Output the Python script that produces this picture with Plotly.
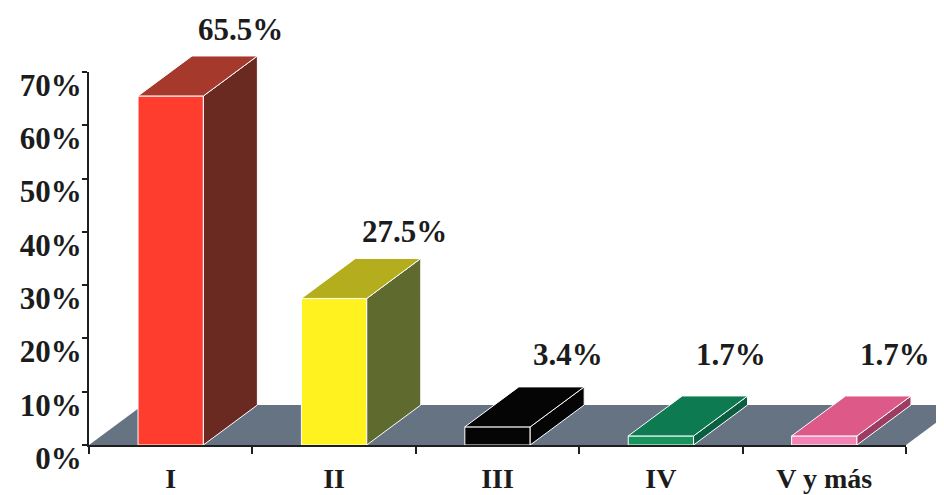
import plotly.graph_objects as go

# ---------------- data ----------------
categories = ["I", "II", "III", "IV", "V y más"]
values = [65.5, 27.5, 3.4, 1.7, 1.7]
value_labels = ["65.5%", "27.5%", "3.4%", "1.7%", "1.7%"]
y_tick_values = [0, 10, 20, 30, 40, 50, 60, 70]
y_tick_labels = ["0%", "10%", "20%", "30%", "40%", "50%", "60%", "70%"]

# ---------------- styles ----------------
front_colors = ["#ff3d2e", "#fff21e", "#050505", "#17935e", "#f283b4"]
top_colors = ["#a53a2c", "#b4ae1f", "#050505", "#0d7a52", "#dd5a88"]
side_colors = ["#6a2a22", "#5e6a2e", "#050505", "#0a5f40", "#9c3c62"]
floor_color = "#667383"
text_color = "#1c1c1c"
FONT = "Liberation Serif, Times New Roman, serif"

# ---------------- geometry (pixels) ----------------
BODY = 8                 # default page margin around the plot div
W, H = 944 - BODY, 495 - BODY
M_L, M_B = 89 - BODY, 50
AXIS_W_PX = 817          # length of the category axis
AXIS_H_PX = 373          # length of the value axis (0..70%)
X_MAX = len(categories)
Y_MAX = 70
px_x = AXIS_W_PX / X_MAX
px_y = AXIS_H_PX / Y_MAX
plot_w = W - M_L
plot_h = H - M_B

BAR_HALF = 0.2
DEPTH_X = 54 / px_x
DEPTH_Y = 40 / px_y

fig = go.Figure()

centers = [i + 0.5 for i in range(len(categories))]

# front faces (real bar trace)
fig.add_trace(go.Bar(
    x=centers, y=values, width=2 * BAR_HALF,
    marker=dict(color=front_colors, line=dict(color="white", width=1)),
    hoverinfo="skip", showlegend=False, xaxis="x", yaxis="y",
))

# top and side faces computed from values
for c, v, tc, sc in zip(centers, values, top_colors, side_colors):
    l, r = c - BAR_HALF, c + BAR_HALF
    fig.add_trace(go.Scatter(
        x=[r, r + DEPTH_X, r + DEPTH_X, r, r],
        y=[0, DEPTH_Y, v + DEPTH_Y, v, 0],
        fill="toself", fillcolor=sc, mode="lines",
        line=dict(color="white", width=1),
        hoverinfo="skip", showlegend=False, xaxis="x", yaxis="y",
    ))
    fig.add_trace(go.Scatter(
        x=[l, r, r + DEPTH_X, l + DEPTH_X, l],
        y=[v, v, v + DEPTH_Y, v + DEPTH_Y, v],
        fill="toself", fillcolor=tc, mode="lines",
        line=dict(color="white", width=1),
        hoverinfo="skip", showlegend=False, xaxis="x", yaxis="y",
    ))

# floor (below traces)
fig.add_shape(
    type="path", xref="x", yref="y", layer="below",
    path=f"M 0 0 L {X_MAX} 0 L {X_MAX + DEPTH_X} {DEPTH_Y} L {DEPTH_X} {DEPTH_Y} Z",
    fillcolor=floor_color, line=dict(width=0),
)

# value labels
for c, v, t in zip(centers, values, value_labels):
    fig.add_annotation(
        x=c + 0.43, y=max(v, 4.5) + 12.5, xref="x", yref="y",
        text=t, showarrow=False, yanchor="middle", xanchor="center",
        font=dict(family=FONT, size=31, color=text_color, weight="bold"),
    )

# dummy trace for the visible-axes subplot
fig.add_trace(go.Scatter(
    x=[0], y=[0], mode="markers", marker=dict(opacity=0),
    hoverinfo="skip", showlegend=False, xaxis="x2", yaxis="y2",
))

fig.update_layout(
    width=W, height=H,
    margin=dict(l=M_L, r=0, t=0, b=M_B, pad=0),
    paper_bgcolor="white", plot_bgcolor="rgba(0,0,0,0)",
    template="none",
    showlegend=False,
    xaxis=dict(domain=[0, 1], range=[0, plot_w / px_x], visible=False,
               fixedrange=True, automargin=False),
    yaxis=dict(domain=[0, 1], range=[0, plot_h / px_y], visible=False,
               fixedrange=True, automargin=False),
    xaxis2=dict(
        domain=[0, AXIS_W_PX / plot_w], range=[0, X_MAX], anchor="y2",
        showline=True, linecolor="#1e1e1e", linewidth=2,
        showgrid=False, zeroline=False,
        tickmode="array", tickvals=centers, ticktext=categories, ticks="",
        ticklabelstandoff=7,
        minor=dict(ticks="outside", tickmode="array",
                   tickvals=list(range(X_MAX + 1)), ticklen=7,
                   tickcolor="#1e1e1e", tickwidth=2, showgrid=False),
        tickfont=dict(family=FONT, size=28, color=text_color, weight="bold"),
        fixedrange=True, automargin=False,
    ),
    yaxis2=dict(
        domain=[0, AXIS_H_PX / plot_h], range=[0, Y_MAX], anchor="x2",
        showline=True, linecolor="#1e1e1e", linewidth=2,
        showgrid=False, zeroline=False,
        tickmode="array", tickvals=y_tick_values, ticktext=y_tick_labels,
        ticks="outside", ticklen=5, tickcolor="#1e1e1e", tickwidth=2,
        ticklabelshift=13, ticklabelstandoff=-6,
        tickfont=dict(family=FONT, size=31, color=text_color, weight="bold"),
        fixedrange=True, automargin=False,
    ),
)

fig.write_html("out.html")
